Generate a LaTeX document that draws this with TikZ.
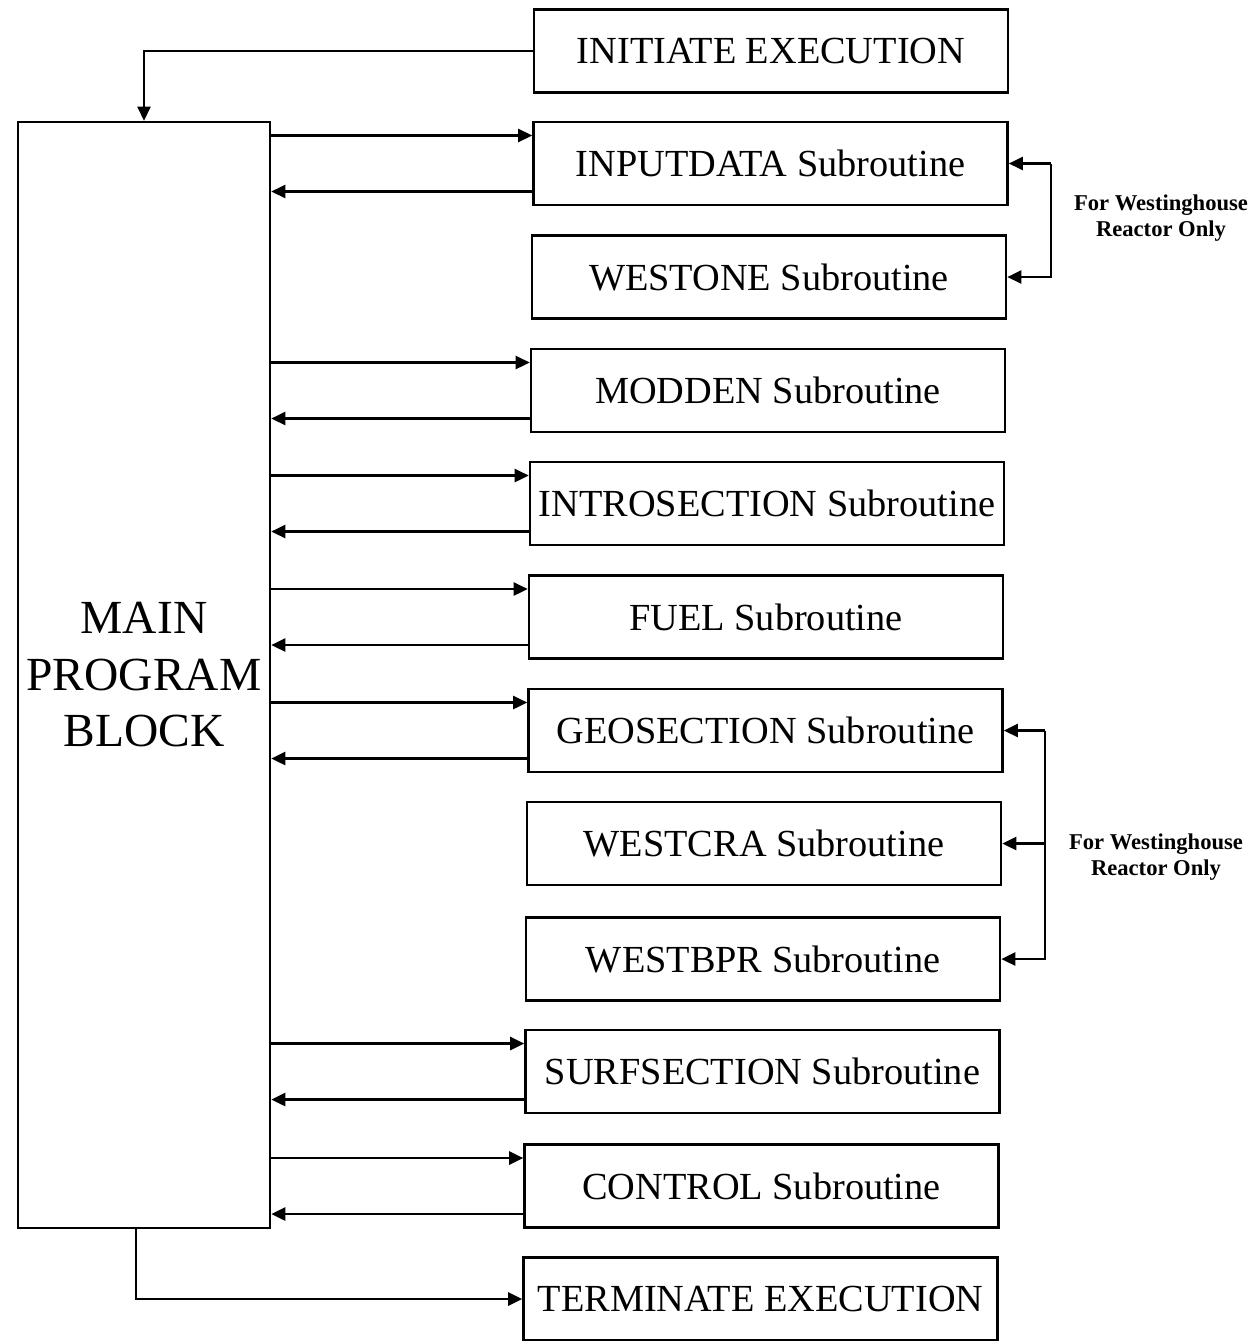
\documentclass[tikz,border=0pt]{standalone}
\usepackage{fontspec}
\setmainfont{Liberation Serif}
\usetikzlibrary{arrows.meta,calc}
\begin{document}
\begin{tikzpicture}[x=1pt,y=-1pt,
  box/.style={draw,line width=2.6pt,minimum width=474pt,minimum height=83pt,inner sep=0pt,
    font=\fontsize{38.3}{42}\selectfont},
  arr/.style={line width=2.6pt,-{Triangle[length=14pt,width=13pt]}},
  note/.style={align=center,font=\bfseries\fontsize{22.6}{25.5}\selectfont}]
\useasboundingbox (0,0) rectangle (1256,1341);
\node[box] (init) at (771,51) {INITIATE EXECUTION};
\node[box] (inp) at (770.5,163.5) {INPUTDATA Subroutine};
\node[box] (wone) at (769,277) {WESTONE Subroutine};
\node[box] (mod) at (768,390.5) {MODDEN Subroutine};
\node[box] (intro) at (767,503.5) {INTROSECTION Subroutine};
\node[box] (fuel) at (766,617) {FUEL Subroutine};
\node[box] (geo) at (765.5,730.5) {GEOSECTION Subroutine};
\node[box] (wcra) at (764,843.5) {WESTCRA Subroutine};
\node[box] (wbpr) at (763,959) {WESTBPR Subroutine};
\node[box] (surf) at (762.5,1071.5) {SURFSECTION Subroutine};
\node[box] (ctrl) at (761.5,1186) {CONTROL Subroutine};
\node[box] (term) at (760.5,1299) {TERMINATE EXECUTION};
\node[draw,line width=2.6pt,minimum width=252pt,minimum height=1106pt,inner sep=0pt,
  align=center,font=\fontsize{47.5}{56.5}\selectfont] (main) at (144,675) {MAIN\\PROGRAM\\BLOCK};
% execution flow
\draw[arr] (init.west) -| (main.north);
\draw[arr] ([xshift=-8pt]main.south) |- (term.west);
% call / return pairs
\foreach \b in {inp,mod,intro,fuel,geo,surf,ctrl}{
  \coordinate (\b-c) at ([yshift=28pt]\b.west);
  \coordinate (\b-r) at ([yshift=-28pt]\b.west);
  \draw[arr] (\b-c -| main.east) -- (\b-c);
  \draw[arr] (\b-r) -- (\b-r -| main.east);
}
% Westinghouse brackets
\coordinate (k1) at ([xshift=42pt]inp.east);
\draw[arr] (k1) -- (inp.east);
\draw[arr] (k1) -- (k1 |- wone.east) -- (wone.east);
\coordinate (k2) at ([xshift=41pt]geo.east);
\draw[arr] (k2) -- (geo.east);
\draw[arr] (k2 |- wcra.east) -- (wcra.east);
\draw[arr] (k2) -- (k2 |- wbpr.east) -- (wbpr.east);
\node[note] (n1) at (1161,218) {For Westinghouse\\Reactor Only};
\node[note] (n2) at (1156,857) {For Westinghouse\\Reactor Only};
\end{tikzpicture}
\end{document}
